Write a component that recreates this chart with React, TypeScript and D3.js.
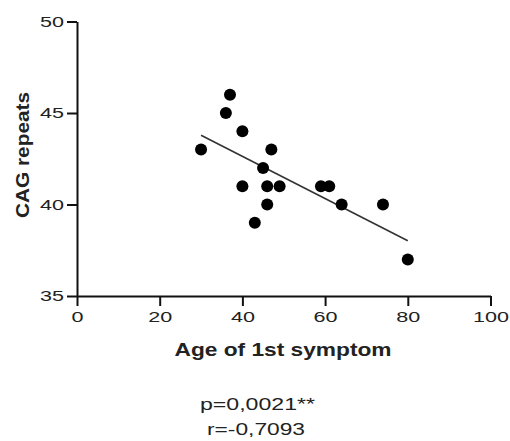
import React, { useEffect, useRef } from "react";
import * as d3 from "d3";

const ageOfOnset = [30, 36, 37, 40, 47, 45, 40, 46, 49, 46, 43, 59, 61, 64, 74, 80];
const cagRepeats = [43, 45, 46, 44, 43, 42, 41, 41, 41, 40, 39, 41, 41, 40, 40, 37];
const xTicks = [0, 20, 40, 60, 80, 100];
const yTicks = [35, 40, 45, 50];
const statLines = ["p=0,0021**", "r=-0,7093"];

const App: React.FC = () => {
	const svgRef = useRef<SVGSVGElement>(null);

	useEffect(() => {
		if (!svgRef.current) return;
		const svg = d3.select(svgRef.current);
		svg.selectAll("*").remove();

		const x = d3.scaleLinear().domain([0, 100]).range([77, 490.5]);
		const y = d3.scaleLinear().domain([35, 50]).range([296, 21.5]);

		const stretch = (sel: any, perChar: number) =>
			sel
				.attr("textLength", (d: any) => String(d).length * perChar)
				.attr("lengthAdjust", "spacingAndGlyphs");

		// y axis
		const gy = svg
			.append("g")
			.attr("transform", `translate(${x(0)},0)`)
			.call(d3.axisLeft(y).tickValues(yTicks).tickSize(10).tickPadding(3).tickSizeOuter(0));
		gy.select(".domain").attr("stroke-width", 2).attr("stroke", "#111");
		gy.selectAll(".tick line").attr("stroke-width", 2).attr("stroke", "#111");
		gy.selectAll(".tick text")
			.attr("font-family", "Arial, 'Liberation Sans', sans-serif")
			.attr("font-size", 15.5)
			.attr("fill", "#222")
			.call(stretch, 12);

		// x axis
		const gx = svg
			.append("g")
			.attr("transform", `translate(0,${y(35)})`)
			.call(d3.axisBottom(x).tickValues(xTicks).tickSize(10).tickPadding(5).tickSizeOuter(0));
		gx.select(".domain").attr("stroke-width", 2).attr("stroke", "#111");
		gx.selectAll(".tick line").attr("stroke-width", 2).attr("stroke", "#111");
		gx.selectAll(".tick text")
			.attr("font-family", "Arial, 'Liberation Sans', sans-serif")
			.attr("font-size", 15.5)
			.attr("fill", "#222")
			.call(stretch, 12);

		// regression line (least squares)
		const pts = ageOfOnset.map((a, i) => [a, cagRepeats[i]] as [number, number]);
		const mx = d3.mean(ageOfOnset) as number;
		const my = d3.mean(cagRepeats) as number;
		const sxy = d3.sum(pts, (p) => (p[0] - mx) * (p[1] - my));
		const sxx = d3.sum(pts, (p) => (p[0] - mx) ** 2);
		const slope = sxy / sxx;
		const icpt = my - slope * mx;
		const [x0, x1] = d3.extent(ageOfOnset) as [number, number];
		svg
			.append("line")
			.attr("x1", x(x0))
			.attr("y1", y(icpt + slope * x0))
			.attr("x2", x(x1))
			.attr("y2", y(icpt + slope * x1))
			.attr("stroke", "#333")
			.attr("stroke-width", 1.6);

		// points
		svg
			.append("g")
			.selectAll("circle")
			.data(pts)
			.join("circle")
			.attr("cx", (d) => x(d[0]))
			.attr("cy", (d) => y(d[1]))
			.attr("r", 6)
			.attr("fill", "#000");

		// axis titles
		svg
			.append("text")
			.attr("x", 283)
			.attr("y", 356)
			.attr("text-anchor", "middle")
			.attr("font-family", "Arial, 'Liberation Sans', sans-serif")
			.attr("font-weight", "bold")
			.attr("font-size", 18)
			.attr("fill", "#222")
			.attr("textLength", 217)
			.attr("lengthAdjust", "spacingAndGlyphs")
			.text("Age of 1st symptom");

		svg
			.append("text")
			.attr("transform", "translate(29,155) rotate(-90)")
			.attr("text-anchor", "middle")
			.attr("font-family", "Arial, 'Liberation Sans', sans-serif")
			.attr("font-weight", "bold")
			.attr("font-size", 19)
			.attr("fill", "#222")
			.attr("textLength", 126)
			.attr("lengthAdjust", "spacingAndGlyphs")
			.text("CAG repeats");

		// stats
		svg
			.append("g")
			.selectAll("text")
			.data(statLines)
			.join("text")
			.attr("x", (d, i) => (i === 0 ? 257.5 : 256))
			.attr("y", (d, i) => 410 + i * 25)
			.attr("text-anchor", "middle")
			.attr("font-family", "Arial, 'Liberation Sans', sans-serif")
			.attr("font-size", 16)
			.attr("fill", "#222")
			.attr("textLength", (d, i) => (i === 0 ? 115 : 98))
			.attr("lengthAdjust", "spacingAndGlyphs")
			.text((d) => d);
	}, []);

	return (
		<svg
			ref={svgRef}
			width={510}
			height={441}
			style={{ position: "absolute", left: 0, top: 0, background: "#fff" }}
		/>
	);
};

export default App;
